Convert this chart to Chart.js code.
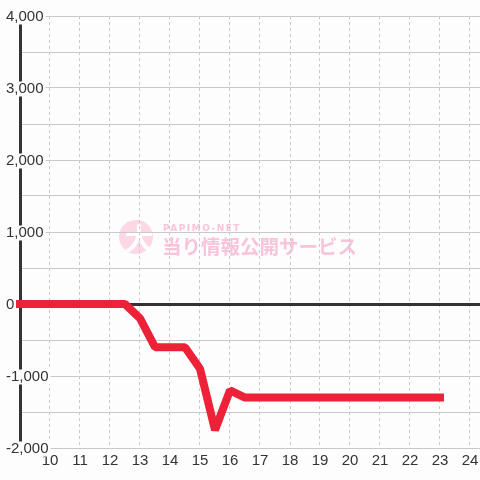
<!DOCTYPE html>
<html>
<head>
<meta charset="utf-8">
<script src="https://cdn.jsdelivr.net/npm/chart.js@4/dist/chart.umd.min.js"></script>
<style>
  html, body { margin: 0; padding: 0; background: #fcfdfc; }
  #wrap { width: 480px; height: 480px; }
</style>
</head>
<body>
<div id="wrap"><canvas id="graph"></canvas></div>
<script>
// hour of day vs. medal difference
const hours = [9, 9.5, 10, 10.5, 11, 11.5, 12, 12.5, 13, 13.5, 14, 14.5, 15, 15.5, 16, 16.5,
  17, 17.5, 18, 18.5, 19, 19.5, 20, 20.5, 21, 21.5, 22, 22.5, 23];
const diff = [0, 0, 0, 0, 0, 0, 0, 0, -200, -600, -600, -600, -900, -1750, -1200, -1300,
  -1300, -1300, -1300, -1300, -1300, -1300, -1300, -1300, -1300, -1300, -1300, -1300, -1300];
const hourTicks = [10, 11, 12, 13, 14, 15, 16, 17, 18, 19, 20, 21, 22, 23, 24];
const diffTicks = [-2000, -1500, -1000, -500, 0, 500, 1000, 1500, 2000, 2500, 3000, 3500, 4000];

const bg = '#fcfdfc';
const gridColor = '#c9c9c9';
const ink = '#333333';

Chart.defaults.font.family = "'Liberation Sans', Arial, sans-serif";
Chart.defaults.color = ink;

// pale site stamp behind the grid
const stamp = {
  id: 'stamp',
  beforeDraw(chart) {
    const { ctx } = chart;
    ctx.save();
    ctx.fillStyle = bg;
    ctx.fillRect(0, 0, chart.width, chart.height);
    ctx.fillStyle = '#fcd8e7';
    ctx.beginPath();
    ctx.arc(136, 237, 17, 0, Math.PI * 2);
    ctx.fill();
    ctx.fillStyle = '#ffffff';
    ctx.font = "bold 29px 'Noto Sans CJK JP'";
    ctx.textAlign = 'center';
    ctx.textBaseline = 'middle';
    ctx.fillText('大', 139, 239);
    ctx.fillStyle = '#f9c4db';
    ctx.textAlign = 'left';
    ctx.textBaseline = 'alphabetic';
    ctx.font = "bold 9px 'DejaVu Sans'";
    if ('letterSpacing' in ctx) ctx.letterSpacing = '1.5px';
    ctx.fillText('PAPIMO-NET', 163, 231);
    if ('letterSpacing' in ctx) ctx.letterSpacing = '0px';
    ctx.font = "bold 19.5px 'Noto Sans CJK JP'";
    ctx.fillText('当り情報公開サービス', 162, 254);
    ctx.restore();
  }
};

new Chart(document.getElementById('graph'), {
  type: 'line',
  data: {
    labels: hours,
    datasets: [{
      data: hours.map((h, i) => ({ x: h, y: diff[i] })),
      borderColor: '#ed2137',
      borderWidth: 8,
      borderCapStyle: 'square',
      borderJoinStyle: 'bevel',
      pointRadius: 0,
      tension: 0,
      fill: false,
      clip: false,
    }],
  },
  options: {
    responsive: true,
    maintainAspectRatio: false,
    animation: false,
    layout: { padding: { top: 16, left: 0, right: 0, bottom: 0 } },
    plugins: { legend: { display: false }, tooltip: { enabled: false } },
    scales: {
      x: {
        type: 'linear',
        min: 9,
        max: 9 + 460 / 30,
        afterBuildTicks: (s) => { s.ticks = hourTicks.map((v) => ({ value: v })); },
        afterFit: (s) => { s.height = 32; s.paddingLeft = 0; s.paddingRight = 0; },
        grid: { color: gridColor, lineWidth: 1, drawTicks: false },
        border: { display: false, dash: [3, 3] },
        ticks: { padding: 5, maxRotation: 0, autoSkip: false, font: { size: 15, lineHeight: 1 }, color: ink },
      },
      y: {
        min: -2000,
        max: 4000,
        afterBuildTicks: (s) => { s.ticks = diffTicks.map((v) => ({ value: v })); },
        afterFit: (s) => { s.width = 20; s.paddingTop = 0; s.paddingBottom = 0; },
        grid: {
          drawTicks: false,
          color: (c) => (c.tick && c.tick.value === 0 ? ink : gridColor),
          lineWidth: (c) => (c.tick && c.tick.value === 0 ? 3 : 1),
        },
        border: { display: true, color: ink, width: 3 },
        ticks: {
          mirror: true,
          crossAlign: 'near',
          padding: -14,
          labelOffset: 1,
          autoSkip: false,
          font: { size: 15, lineHeight: 1 },
          color: ink,
          callback: (v) => (v % 1000 === 0 ? v.toLocaleString('en-US') : ''),
          showLabelBackdrop: (c) => c.tick && c.tick.value % 1000 === 0,
          backdropColor: bg,
          backdropPadding: { left: 2, right: 2, top: 0, bottom: 0 },
        },
      },
    },
  },
  plugins: [stamp],
});
</script>
</body>
</html>
